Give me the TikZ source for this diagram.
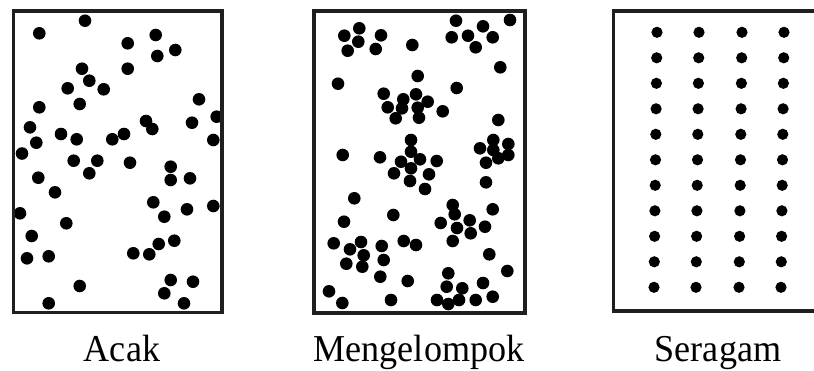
\documentclass[tikz,border=0pt]{standalone}
\usepackage{fontspec}
\setmainfont{Liberation Serif}
\begin{document}
\begin{tikzpicture}[x=1pt,y=-1pt,
  frame/.style={draw=black!88,line width=3.6pt},
  dotc/.style={fill=black},
  lbl/.style={anchor=base,inner sep=0pt,xscale=0.95,font=\fontsize{38}{40}\selectfont}]
\useasboundingbox (0,0) rectangle (814,370);
\clip (0,0) rectangle (814,370);
% Acak
\foreach \x/\y in {85/20.7,39.3/33.3,127.7/43.3,155.7/35,157.3/56,175.3/50,82/68.7,127.7/68.7,89.3/80.7,67.7/88.3,103.7/89.3,39.3/107.3,79.7/104,199/99.3,30/127.3,36.3/142.7,61/134,76.7/139.3,112.3/139.3,124/134,146/121,152.3/129,192/122.7,216.7/116.7,213.3/140,22/153.5,73.7/160.7,97.3/160.7,89.3/173.3,130/162.7,170.7/166.7,170.7/180,190/178.3,38.3/177.7,55/192.3,153.3/202.3,164.3/216.7,187/209.3,213.3/206,20/213.3,66.3/223.3,31.7/236,27/258.3,48.7/256.3,133.3/253.3,149.3/254.3,158.7/244,174.3/240.7,170.7/280,193/281.7,164.3/293.3,184/303.3,79.7/286,48.7/303.3}
  \fill[dotc] (\x,\y) circle (6.3);
\draw[frame] (13.5,11) rectangle (222,312.5);
% Mengelompok
\foreach \x/\y in {456/20.7,510/20,483/26.3,359.3/28.3,344.3/35.7,381/35.3,358.3/41.7,451.7/37.3,468/35.7,492.7/37.3,475.7/47.3,347.7/50.7,375.7/49,412.3/45,500.3/67.3,338/83.7,417.7/76,456.7/88,383.7/93.7,416/94.3,403.3/99.3,427.7/101.7,387.7/107.3,402/108.3,417.7/107.7,442.7/111.3,395.7/118.3,419/117.7,498.3/120,493.3/140,480/148.3,508.3/144,493.3/150,508.3/155,498.3/158.3,486/162.7,486/182.3,411/140,380/157.3,411/151.7,401/161.7,420/159.3,436.7/161,411/168.3,394/173.3,429/174.3,410/181,425/189,342.7/155,354.3/198.3,452.7/205,454.7/214.3,492.7/209.3,344/221.7,393.3/215,440.7/223,469.7/220.3,457/228,485/226.7,470.7/233.3,452.7/241,333.7/243.3,361/242,350/249.3,381.7/246,403.7/241,416/245,363.7/255.3,383.7/260,346.3/263.7,362.3/266.7,489.3/254.3,507.3/271,380.3/276.7,448.3/273.3,407.7/281,483/283,446.7/286.7,462.3/288.3,329/291.3,342.3/303,391/300,437/300,448.3/304,459/300,475.7/300,492.7/296.7}
  \fill[dotc] (\x,\y) circle (6.3);
\draw[frame] (314,11) rectangle (525,313);
% Seragam
\foreach \i in {0,...,10}{
  \foreach \c in {657,699,742,784}{
    \fill[dotc] (\c-0.3*\i,32.3+25.5*\i) circle (5.6);
  }
}
\draw[frame] (613.5,11) rectangle (825,311);
% labels
\node[lbl] (acak) at (122,361) {Acak};
\node[lbl] (meng) at (419,361) {Mengelompok};
\node[lbl] (serag) at (718,361) {Seragam};
\end{tikzpicture}
\end{document}
